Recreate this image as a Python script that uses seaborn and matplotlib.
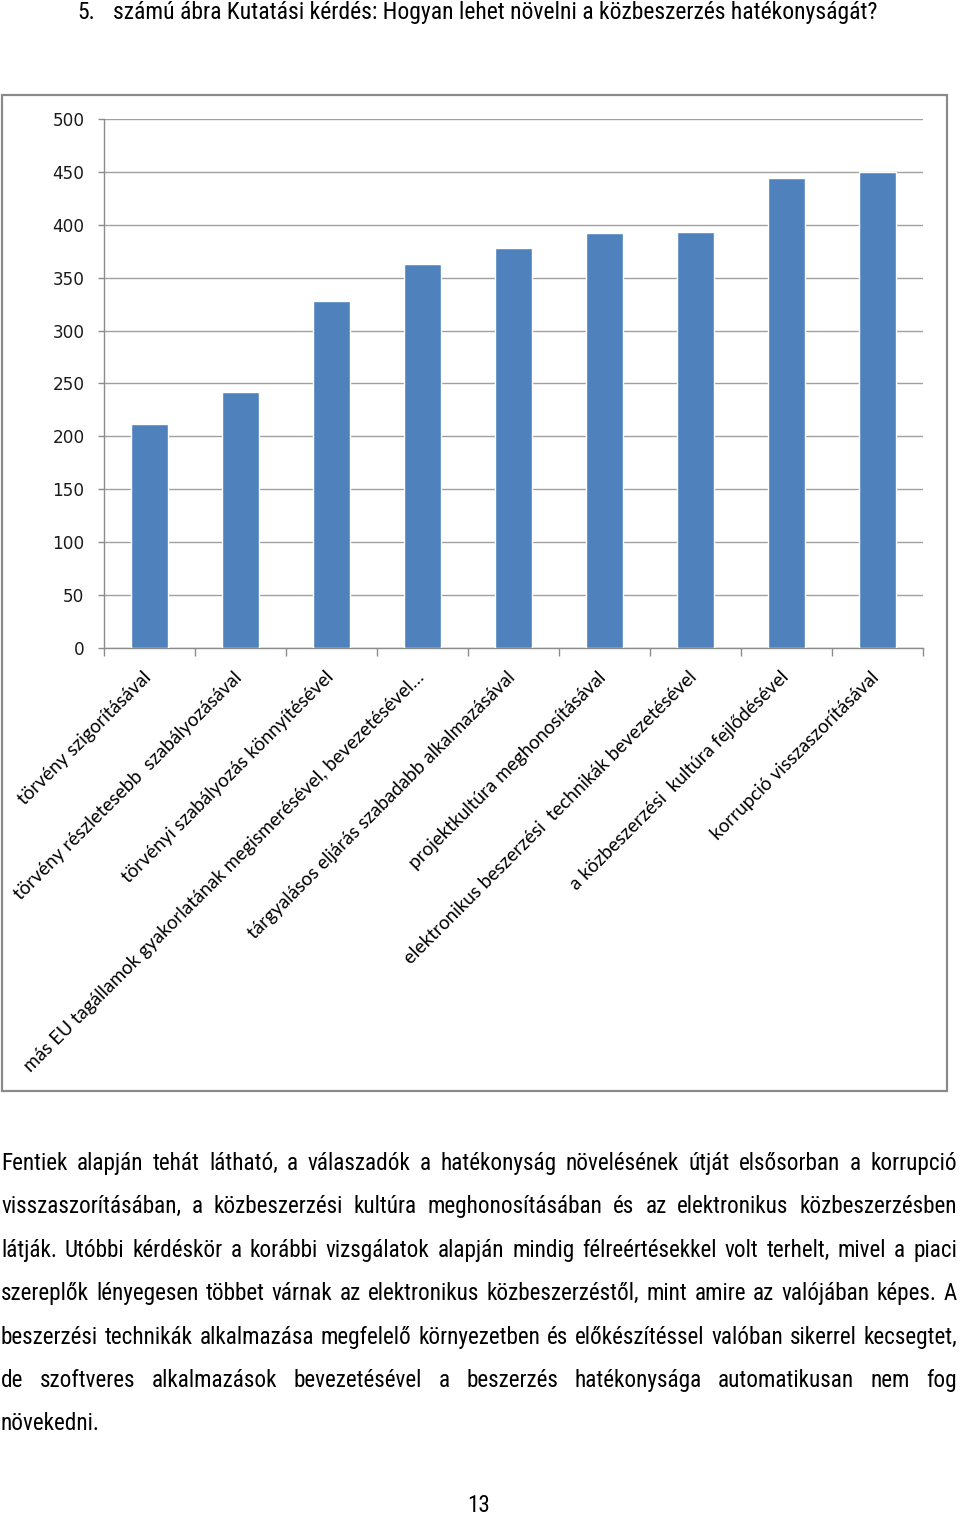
import matplotlib
matplotlib.use("Agg")
import matplotlib.pyplot as plt
import matplotlib.transforms as mtransforms
from matplotlib import font_manager
from matplotlib.patches import Rectangle
from matplotlib.ticker import FixedLocator
import seaborn as sns
import pandas as pd

# ---------------- data ----------------
categories = [
    "törvény szigorításával",
    "törvény részletesebb  szabályozásával",
    "törvényi szabályozás könnyítésével",
    "más EU tagállamok gyakorlatának megismerésével, bevezetésével…",
    "tárgyalásos eljárás szabadabb alkalmazásával",
    "projektkultúra meghonosításával",
    "elektronikus beszerzési  technikák bevezetésével",
    "a közbeszerzési  kultúra fejlődésével",
    "korrupció visszaszorításával",
]
values = [212, 242, 328, 363, 378, 392, 393, 444, 450]
y_ticks = [0, 50, 100, 150, 200, 250, 300, 350, 400, 450, 500]

title_number = "5."
title_text = "számú ábra Kutatási kérdés: Hogyan lehet növelni a közbeszerzés hatékonyságát?"
paragraph_lines = [
    "Fentiek alapján tehát látható, a válaszadók a hatékonyság növelésének útját elsősorban a korrupció",
    "visszaszorításában, a közbeszerzési kultúra meghonosításában és az elektronikus közbeszerzésben",
    "látják. Utóbbi kérdéskör a korábbi vizsgálatok alapján mindig félreértésekkel volt terhelt, mivel a piaci",
    "szereplők lényegesen többet várnak az elektronikus közbeszerzéstől, mint amire az valójában képes. A",
    "beszerzési technikák alkalmazása megfelelő környezetben és előkészítéssel valóban sikerrel kecsegtet,",
    "de szoftveres alkalmazások bevezetésével a beszerzés hatékonysága automatikusan nem fog",
    "növekedni.",
]
page_number = "13"

# ---------------- style ----------------
sns.set_theme(style="white")
available = {f.name for f in font_manager.fontManager.ttflist}
body_family = "Liberation Sans"
for cand in ["Liberation Sans Narrow", "Arial Narrow", "Roboto Condensed",
             "DejaVu Sans Condensed", "Liberation Sans"]:
    if cand in available:
        body_family = cand
        break
plt.rcParams["font.family"] = ["DejaVu Sans"]

W, H = 960, 1515
fig = plt.figure(figsize=(W / 100, H / 100), dpi=100)
fig.patch.set_facecolor("white")


def fx(px):
    return px / W


def fy(py):
    return 1 - py / H


BAR_COLOR = "#4F81BD"
GRID = "#A0A0A0"
AXIS = "#8C8C8C"

# chart frame
fig.patches.append(Rectangle((fx(2), fy(1091)), fx(947) - fx(2), fy(95) - fy(1091),
                             transform=fig.transFigure, fill=False,
                             edgecolor="#8A8A8A", linewidth=1.6, zorder=0))

ax = fig.add_axes([fx(104), fy(648), fx(923) - fx(104), fy(119) - fy(648)])
df = pd.DataFrame({"kategoria": categories, "ertek": values})
sns.barplot(data=df, x="kategoria", y="ertek", color=BAR_COLOR, saturation=1,
            width=0.4, ax=ax, zorder=3)
ax.set_xlim(-0.5, len(categories) - 0.5)
ax.set_ylim(0, 500)
ax.set_xlabel("")
ax.set_ylabel("")
ax.set_facecolor("white")

ax.set_yticks(y_ticks)
ax.set_yticklabels([str(v) for v in y_ticks])
ax.yaxis.grid(True, color=GRID, linewidth=1.0, zorder=0)
ax.xaxis.grid(False)
ax.set_axisbelow(True)

for s in ["top", "right"]:
    ax.spines[s].set_visible(False)
for s in ["left", "bottom"]:
    ax.spines[s].set_color(AXIS)
    ax.spines[s].set_linewidth(1.0)

ax.tick_params(axis="y", which="major", left=True, length=4.5, width=1.0,
               color=AXIS, pad=9.5, labelsize=12.2, labelcolor="#1A1A1A")
ax.yaxis.set_tick_params(labelfontfamily="DejaVu Sans")

# category boundary ticks (Excel-like)
ax.xaxis.set_minor_locator(FixedLocator([i - 0.5 for i in range(len(categories) + 1)]))
ax.tick_params(axis="x", which="minor", bottom=True, length=5.5, width=1.0, color=AXIS,
               direction="out")
ax.tick_params(axis="x", which="major", bottom=True, length=0, pad=19)
ax.set_xticks(range(len(categories)))
ax.set_xticklabels(categories, rotation=45, ha="right", va="center",
                   rotation_mode="anchor", fontsize=13.6, fontfamily="Lato",
                   color="#000000")
shift = mtransforms.ScaledTranslation(-1 / 100, 0, fig.dpi_scale_trans)
for lab in ax.get_xticklabels():
    lab.set_transform(lab.get_transform() + shift)

# ---------------- page text ----------------
renderer = fig.canvas.get_renderer()
BASE_SIZE = 16.0


def text_width(s, size):
    t = fig.text(0, 0, s, fontsize=size, family=body_family)
    w = t.get_window_extent(renderer).width
    t.remove()
    return w


left_px, right_px = 1.0, 957.0
avail = right_px - left_px
# title spans from x=113 to x=880 on the page
title_size = BASE_SIZE * 767 / text_width(title_text, BASE_SIZE)
# body uses the same face; shrink only if a justified line would not fit
ratios = [avail / text_width(l, title_size) for l in paragraph_lines[:-1]]
body_size = title_size * min(1.0, min(ratios) * 0.99)

fig.text(fx(77), fy(18.7), title_number, fontsize=title_size, family=body_family,
         va="baseline", ha="left", color="#000000")
fig.text(fx(113), fy(18.7), title_text, fontsize=title_size, family=body_family,
         va="baseline", ha="left", color="#000000")

first_baseline, line_step = 1170.0, 43.4
for i, line in enumerate(paragraph_lines):
    words = line.split(" ")
    base = first_baseline + i * line_step
    texts = [fig.text(0, fy(base), w, fontsize=body_size, family=body_family,
                      va="baseline", ha="left", color="#000000") for w in words]
    widths = [t.get_window_extent(renderer).width for t in texts]
    if i < len(paragraph_lines) - 1 and len(words) > 1:
        gap = (avail - sum(widths)) / (len(words) - 1)
    else:
        gap = body_size * 100 / 72 * 0.25
    x = left_px
    for t, w in zip(texts, widths):
        t.set_x(fx(x))
        x += w + gap

fig.text(fx(479), fy(1512), page_number, fontsize=body_size, family=body_family,
         va="baseline", ha="center", color="#000000")

fig.savefig("out.png", dpi=100, facecolor="white")
